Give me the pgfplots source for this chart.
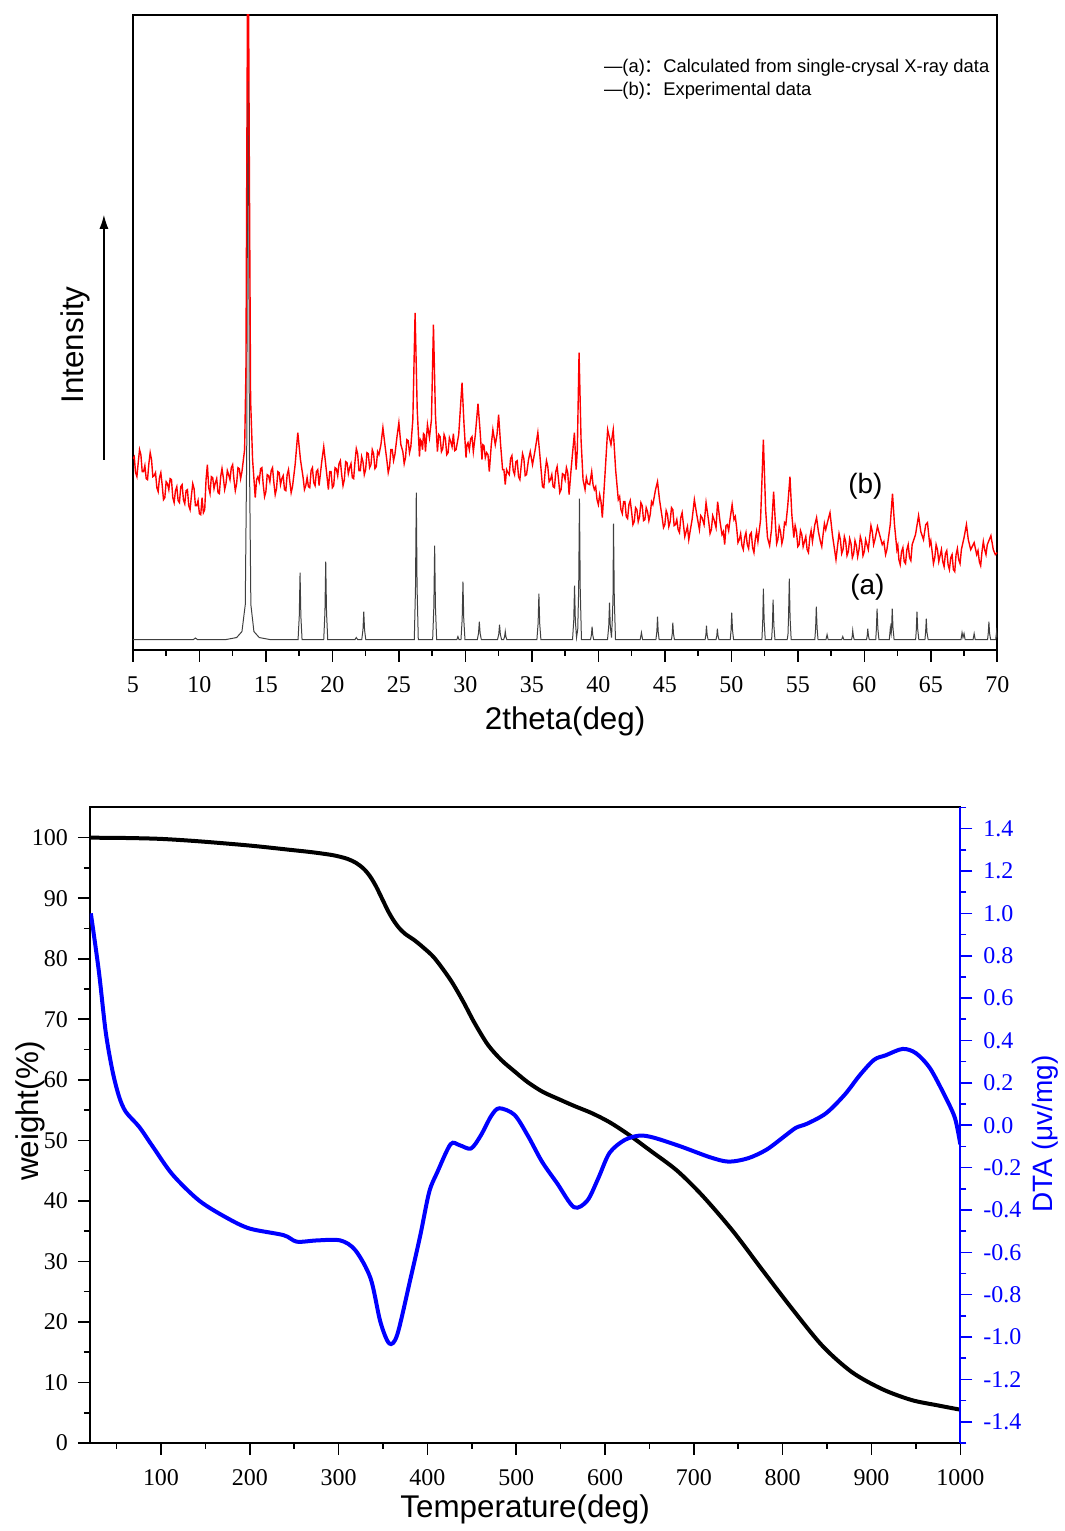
\documentclass[border=0pt]{standalone}
\usepackage{fontspec}
\setmainfont{Liberation Serif}
\newfontfamily\arial{Liberation Sans}
\newfontfamily\cjk{Noto Sans CJK SC}
\usepackage{pgfplots}
\pgfplotsset{compat=1.18}
\usetikzlibrary{arrows.meta}
\begin{document}
\begin{tikzpicture}
\path (0,0) rectangle (532.5pt,765.5pt);
% ---------------- XRD panel ----------------
\begin{axis}[at={(66.5pt,440.5pt)}, anchor=south west, scale only axis,
  width=432.5pt, height=317.5pt,
  xmin=5, xmax=70, ymin=0, ymax=635,
  xtick={5,10,...,70}, minor xtick={7.5,12.5,...,67.5}, ytick=\empty,
  xtick pos=left, tick align=outside,
  major tick length=6pt, minor tick length=3pt,
  axis line style={line width=1pt},
  every tick/.style={black, line width=0.8pt},
  tick label style={font=\rmfamily\fontsize{12}{14}\selectfont},
  xticklabel style={yshift=-4pt},
  /pgf/number format/assume math mode=true,
  xlabel={2theta(deg)}, ylabel={Intensity},
  xlabel style={font=\arial\fontsize{15.7}{18}\selectfont, at={(axis description cs:0.5,-0.1134)}, anchor=center},
  ylabel style={font=\arial\fontsize{15.7}{18}\selectfont, at={(axis description cs:-0.067,0.48)}, anchor=center},
]
\addplot[black!75, line width=0.5pt] table[row sep=\\] {
5 10\\ 9.55 10\\ 9.7 11.5\\ 9.85 10\\ 12.0 10\\ 12.8 12\\ 13.2 18\\ 13.45 45\\ 13.56 200\\ 13.66 700\\ 13.76 200\\ 13.87 45\\ 14.1 18\\ 14.5 12\\ 15.3 10\\
17.42 10\\ 17.51 33.5\\ 17.57 77\\ 17.63 33.5\\ 17.72 10\\
19.35 10\\ 19.44 37.3\\ 19.5 88\\ 19.56 37.3\\ 19.65 10\\
21.7 10\\ 21.8 12\\ 21.9 10\\
22.21 10\\ 22.3 19.8\\ 22.36 38\\ 22.42 19.8\\ 22.51 10\\
26.16 10\\ 26.25 61.5\\ 26.31 157\\ 26.37 61.5\\ 26.46 10\\
27.54 10\\ 27.63 42.9\\ 27.69 104\\ 27.75 42.9\\ 27.84 10\\
29.36 10\\ 29.44 13\\ 29.52 10\\
29.67 10\\ 29.76 30.3\\ 29.82 68\\ 29.88 30.3\\ 29.97 10\\
30.9 10\\ 30.99 16.3\\ 31.05 28\\ 31.11 16.3\\ 31.2 10\\
32.42 10\\ 32.51 15.3\\ 32.57 25\\ 32.63 15.3\\ 32.72 10\\
32.88 10\\ 32.95 12.8\\ 33.0 18\\ 33.05 12.8\\ 33.12 10\\
35.38 10\\ 35.47 26.1\\ 35.53 56\\ 35.59 26.1\\ 35.68 10\\
38.06 10\\ 38.15 28.9\\ 38.21 64\\ 38.27 28.9\\ 38.36 12\\ 38.45 20\\ 38.52 59.4\\ 38.58 151\\ 38.64 59.4\\ 38.73 10\\
39.41 10\\ 39.48 14.6\\ 39.53 23\\ 39.58 14.6\\ 39.65 10\\
40.69 10\\ 40.78 23\\ 40.84 47\\ 40.9 23\\ 40.99 12\\ 41.05 30\\ 41.1 50.6\\ 41.14 126\\ 41.2 50.6\\ 41.29 10\\
43.15 10\\ 43.24 17\\ 43.33 10\\
44.33 10\\ 44.4 18\\ 44.45 33\\ 44.5 18\\ 44.57 10\\
45.5 10\\ 45.56 16\\ 45.6 27\\ 45.65 16\\ 45.72 10\\
48.03 10\\ 48.09 14.9\\ 48.13 24\\ 48.18 14.9\\ 48.25 10\\
48.85 10\\ 48.91 13.9\\ 48.95 21\\ 49.0 13.9\\ 49.07 10\\
49.92 10\\ 49.98 19.5\\ 50.03 37\\ 50.09 19.5\\ 50.17 10\\
52.3 10\\ 52.36 27.9\\ 52.41 61\\ 52.47 27.9\\ 52.55 10\\
53.03 10\\ 53.09 24\\ 53.14 50\\ 53.2 24\\ 53.28 10\\
54.2 10\\ 54.26 15\\ 54.3 31.4\\ 54.36 71\\ 54.42 31.4\\ 54.5 10\\
56.28 10\\ 56.34 21.6\\ 56.39 43\\ 56.45 21.6\\ 56.52 10\\
57.12 10\\ 57.2 15\\ 57.28 10\\
58.3 10\\ 58.38 13\\ 58.46 10\\
59.04 10\\ 59.09 13.2\\ 59.13 19\\ 59.18 13.2\\ 59.24 10\\
60.17 10\\ 60.22 13.9\\ 60.26 21\\ 60.31 13.9\\ 60.37 10\\
60.86 10\\ 60.91 20.9\\ 60.96 41\\ 61.02 20.9\\ 61.1 10\\
61.88 10\\ 61.96 22\\ 62.02 16\\ 62.05 20.9\\ 62.1 41\\ 62.16 20.9\\ 62.24 10\\
63.86 10\\ 63.91 19.8\\ 63.96 38\\ 64.02 19.8\\ 64.1 10\\
64.56 10\\ 64.61 17.4\\ 64.66 31\\ 64.71 17.4\\ 64.8 10\\
67.27 10\\ 67.35 17\\ 67.42 12\\ 67.5 16\\ 67.58 10\\
68.18 10\\ 68.26 16\\ 68.34 10\\
69.27 10\\ 69.32 16.3\\ 69.37 28\\ 69.42 16.3\\ 69.5 10\\
69.88 10\\ 69.95 18\\ 70.0 12\\
};
\addplot[red, line width=0.7pt] table[row sep=\\] {
5.0 191\\ 5.1 193\\ 5.2 177\\ 5.3 173\\ 5.4 187\\ 5.5 200\\ 5.6 195\\ 5.7 178\\ 5.8 178\\ 5.9 184\\
6.0 171\\ 6.1 170\\ 6.2 186\\ 6.3 197\\ 6.4 190\\ 6.5 173\\ 6.6 174\\ 6.7 177\\ 6.8 162\\ 6.9 158\\
7.0 172\\ 7.1 177\\ 7.2 165\\ 7.3 150\\ 7.4 152\\ 7.5 168\\ 7.6 166\\ 7.7 160\\ 7.8 171\\ 7.9 170\\
8.0 152\\ 8.1 147\\ 8.2 159\\ 8.3 163\\ 8.4 149\\ 8.5 147\\ 8.6 163\\ 8.7 165\\ 8.8 150\\ 8.9 146\\
9.0 159\\ 9.1 160\\ 9.2 144\\ 9.3 140\\ 9.4 154\\ 9.5 166\\ 9.6 161\\ 9.7 144\\ 9.8 144\\ 9.9 149\\
10.0 136\\ 10.1 135\\ 10.2 152\\ 10.3 137\\ 10.4 140\\ 10.5 170\\ 10.6 185\\ 10.7 162\\ 10.8 156\\ 10.9 173\\
11.0 172\\ 11.1 161\\ 11.2 167\\ 11.3 171\\ 11.4 157\\ 11.5 156\\ 11.6 173\\ 11.7 181\\ 11.8 172\\ 11.9 160\\
12.0 166\\ 12.1 179\\ 12.2 175\\ 12.3 170\\ 12.4 182\\ 12.5 185\\ 12.6 170\\ 12.7 159\\ 12.8 166\\ 12.9 182\\
13.0 181\\ 13.1 171\\ 13.2 178\\ 13.4 200\\ 13.5 280\\ 13.6 600\\ 13.66 760\\ 13.75 500\\ 13.85 250\\ 14.0 190\\ 14.2 152\\
14.3 170\\ 14.4 173\\ 14.5 168\\ 14.6 181\\ 14.7 182\\ 14.8 165\\ 14.9 153\\ 15.0 158\\ 15.1 175\\ 15.2 174\\
15.3 168\\ 15.4 179\\ 15.5 182\\ 15.6 167\\ 15.7 155\\ 15.8 161\\ 15.9 178\\ 16.0 177\\ 16.1 165\\ 16.2 171\\
16.3 174\\ 16.4 160\\ 16.5 159\\ 16.6 175\\ 16.7 180\\ 16.8 168\\ 16.9 157\\ 17.0 163\\ 17.2 185\\ 17.4 217\\
17.6 190\\ 17.8 172\\ 17.9 160\\ 18.0 164\\ 18.1 172\\ 18.2 163\\ 18.3 162\\ 18.4 179\\ 18.5 182\\ 18.6 167\\
18.7 164\\ 18.8 178\\ 18.9 180\\ 19.0 164\\ 19.2 188\\ 19.35 203\\ 19.5 185\\ 19.7 160\\ 19.8 178\\ 19.9 178\\
20.0 162\\ 20.1 164\\ 20.2 182\\ 20.3 181\\ 20.4 174\\ 20.5 186\\ 20.6 189\\ 20.7 175\\ 20.8 164\\ 20.9 170\\
21.0 188\\ 21.1 187\\ 21.2 176\\ 21.3 182\\ 21.4 186\\ 21.5 172\\ 21.6 171\\ 21.7 188\\ 21.8 201\\ 21.9 196\\
22.0 179\\ 22.1 179\\ 22.2 193\\ 22.3 188\\ 22.4 175\\ 22.5 180\\ 22.6 197\\ 22.7 196\\ 22.8 182\\ 22.9 185\\
23.0 200\\ 23.1 196\\ 23.2 181\\ 23.3 183\\ 23.4 198\\ 23.5 195\\ 23.65 205\\ 23.8 222\\ 23.95 205\\ 24.1 189\\
24.2 177\\ 24.3 183\\ 24.4 200\\ 24.5 200\\ 24.6 189\\ 24.7 195\\ 24.85 212\\ 25.0 227\\ 25.15 205\\ 25.3 198\\
25.4 186\\ 25.5 192\\ 25.6 210\\ 25.7 209\\ 25.8 197\\ 25.9 203\\ 26.05 230\\ 26.22 337\\ 26.38 240\\ 26.55 193\\
26.62 210\\ 26.7 208\\ 26.78 200\\ 26.85 216\\ 26.92 215\\ 27.0 198\\ 27.15 225\\ 27.3 212\\ 27.45 230\\ 27.6 325\\
27.75 235\\ 27.9 198\\ 28.0 215\\ 28.1 213\\ 28.2 198\\ 28.3 201\\ 28.4 215\\ 28.5 211\\ 28.6 195\\ 28.7 197\\
28.8 212\\ 28.9 208\\ 29.0 203\\ 29.1 216\\ 29.2 199\\ 29.3 200\\ 29.5 215\\ 29.75 267\\ 29.9 225\\ 30.05 192\\
30.12 205\\ 30.2 207\\ 30.3 200\\ 30.4 211\\ 30.5 213\\ 30.6 198\\ 30.75 215\\ 30.95 246\\ 31.1 220\\ 31.25 190\\
31.32 205\\ 31.4 204\\ 31.5 192\\ 31.6 197\\ 31.7 195\\ 31.8 178\\ 31.95 205\\ 32.07 220\\ 32.25 205\\ 32.38 215\\
32.5 235\\ 32.65 205\\ 32.8 180\\ 32.9 180\\ 33.0 165\\ 33.1 180\\ 33.2 177\\ 33.3 175\\ 33.4 191\\ 33.5 194\\
33.6 179\\ 33.7 175\\ 33.8 188\\ 33.9 189\\ 34.0 173\\ 34.1 170\\ 34.2 184\\ 34.3 196\\ 34.4 191\\ 34.5 174\\
34.6 175\\ 34.75 190\\ 34.88 198\\ 35.05 185\\ 35.25 200\\ 35.45 217\\ 35.6 195\\ 35.8 163\\ 35.9 162\\ 36.0 178\\
36.1 189\\ 36.2 183\\ 36.3 168\\ 36.4 170\\ 36.5 175\\ 36.6 163\\ 36.7 162\\ 36.8 178\\ 36.9 183\\ 37.0 171\\
37.1 157\\ 37.2 160\\ 37.3 176\\ 37.4 175\\ 37.5 170\\ 37.6 182\\ 37.7 177\\ 37.8 155\\ 37.95 180\\ 38.2 217\\
38.33 180\\ 38.42 200\\ 38.55 297\\ 38.7 210\\ 38.85 170\\ 39.0 160\\ 39.1 172\\ 39.2 166\\ 39.35 165\\ 39.5 178\\
39.6 165\\ 39.7 160\\ 39.8 163\\ 39.9 150\\ 40.0 145\\ 40.1 155\\ 40.2 148\\ 40.3 132\\ 40.5 175\\ 40.7 220\\
40.95 205\\ 41.12 220\\ 41.3 180\\ 41.5 150\\ 41.6 153\\ 41.7 140\\ 41.8 136\\ 41.9 148\\ 42.0 148\\ 42.1 133\\
42.2 131\\ 42.3 145\\ 42.4 149\\ 42.5 138\\ 42.6 125\\ 42.7 128\\ 42.8 142\\ 42.9 140\\ 43.0 128\\ 43.1 133\\
43.2 147\\ 43.3 144\\ 43.4 129\\ 43.5 130\\ 43.6 142\\ 43.7 138\\ 43.8 129\\ 43.9 135\\ 44.0 148\\ 44.1 145\\
44.3 160\\ 44.45 168\\ 44.6 150\\ 44.8 132\\ 44.9 122\\ 45.0 125\\ 45.1 139\\ 45.2 135\\ 45.3 123\\ 45.4 128\\
45.5 142\\ 45.6 140\\ 45.7 124\\ 45.8 125\\ 45.9 130\\ 46.0 120\\ 46.1 117\\ 46.2 132\\ 46.3 137\\ 46.4 125\\
46.5 113\\ 46.6 118\\ 46.7 123\\ 46.8 110\\ 47.05 130\\ 47.22 150\\ 47.4 135\\ 47.6 120\\ 47.7 134\\ 47.8 132\\
47.95 125\\ 48.1 147\\ 48.3 128\\ 48.4 116\\ 48.5 120\\ 48.6 134\\ 48.7 130\\ 48.85 122\\ 48.97 148\\ 49.15 128\\
49.3 115\\ 49.4 118\\ 49.5 105\\ 49.6 124\\ 49.7 125\\ 49.8 119\\ 49.9 130\\ 50.06 145\\ 50.2 130\\ 50.3 133\\
50.4 122\\ 50.5 107\\ 50.6 110\\ 50.7 116\\ 50.8 104\\ 50.9 100\\ 51.0 112\\ 51.1 117\\ 51.2 105\\ 51.3 101\\
51.4 115\\ 51.5 117\\ 51.6 102\\ 51.7 97\\ 51.8 110\\ 51.9 118\\ 52.0 108\\ 52.2 130\\ 52.41 210\\ 52.58 140\\
52.72 112\\ 52.88 104\\ 53.02 120\\ 53.18 158\\ 53.32 125\\ 53.41 106\\ 53.5 110\\ 53.6 123\\ 53.7 118\\ 53.8 106\\
53.9 112\\ 54.0 127\\ 54.1 125\\ 54.25 145\\ 54.41 173\\ 54.55 135\\ 54.7 112\\ 54.8 124\\ 54.9 118\\ 55.0 103\\
55.1 105\\ 55.2 119\\ 55.3 115\\ 55.4 103\\ 55.5 108\\ 55.6 113\\ 55.7 100\\ 55.8 97\\ 55.9 112\\ 56.0 119\\
56.1 108\\ 56.28 125\\ 56.41 132\\ 56.55 118\\ 56.7 108\\ 56.8 103\\ 56.9 115\\ 57.0 126\\ 57.1 120\\ 57.28 130\\
57.42 137\\ 57.6 115\\ 57.87 90\\ 58.0 105\\ 58.1 116\\ 58.2 110\\ 58.3 96\\ 58.4 100\\ 58.5 113\\ 58.6 108\\
58.7 94\\ 58.8 98\\ 58.9 111\\ 59.0 106\\ 59.1 92\\ 59.2 96\\ 59.3 109\\ 59.4 104\\ 59.5 93\\ 59.6 100\\
59.7 113\\ 59.8 108\\ 59.9 94\\ 60.0 98\\ 60.1 110\\ 60.2 105\\ 60.3 100\\ 60.4 112\\ 60.5 124\\ 60.6 118\\
60.7 105\\ 60.8 110\\ 60.99 123\\ 61.15 115\\ 61.35 105\\ 61.47 108\\ 61.6 95\\ 61.7 100\\ 61.8 110\\ 61.95 125\\
62.12 156\\ 62.27 125\\ 62.45 100\\ 62.52 104\\ 62.6 90\\ 62.7 85\\ 62.8 98\\ 62.9 102\\ 63.0 88\\ 63.1 86\\
63.2 100\\ 63.3 105\\ 63.4 92\\ 63.5 89\\ 63.6 105\\ 63.85 115\\ 64.08 134\\ 64.25 118\\ 64.45 110\\ 64.62 125\\
64.75 127\\ 64.92 105\\ 65.0 109\\ 65.1 98\\ 65.2 86\\ 65.3 92\\ 65.4 105\\ 65.5 100\\ 65.6 88\\ 65.7 94\\
65.8 100\\ 65.9 88\\ 66.0 83\\ 66.1 96\\ 66.2 99\\ 66.3 85\\ 66.4 80\\ 66.5 92\\ 66.6 95\\ 66.7 80\\
66.8 78\\ 66.9 95\\ 67.0 101\\ 67.1 90\\ 67.2 86\\ 67.3 100\\ 67.5 112\\ 67.68 125\\ 67.82 110\\ 68.0 100\\
68.26 107\\ 68.45 95\\ 68.55 99\\ 68.65 88\\ 68.75 84\\ 68.85 98\\ 68.95 108\\ 69.05 100\\ 69.15 95\\ 69.25 105\\
69.52 114\\ 69.7 100\\ 69.85 95\\ 70.0 97\\
};
\node[anchor=west, font=\arial\fontsize{9.2}{10}\selectfont, inner sep=0pt] at (axis cs:40.4,582) {—(a){\cjk ：}Calculated from single-crysal X-ray data};
\node[anchor=west, font=\arial\fontsize{9.2}{10}\selectfont, inner sep=0pt] at (axis cs:40.4,559) {—(b){\cjk ：}Experimental data};
\node[font=\arial\fontsize{14}{16}\selectfont] at (axis cs:60.08,163) {(b)};
\node[font=\arial\fontsize{14}{16}\selectfont] at (axis cs:60.23,62) {(a)};
\end{axis}
\draw[-{Latex[length=7pt,width=4.5pt]}, line width=0.6pt] (52pt,535.5pt) -- (52pt,658pt);
% ---------------- TGA / DTA panel ----------------
\begin{axis}[at={(45pt,43.5pt)}, anchor=south west, scale only axis,
  width=435.5pt, height=318pt,
  xmin=20, xmax=1000, ymin=0, ymax=105,
  xtick={100,200,...,1000}, minor xtick={50,150,...,950},
  ytick={0,10,...,100}, minor ytick={5,15,...,95},
  xtick pos=left, ytick pos=left, tick align=outside,
  major tick length=6pt, minor tick length=3pt,
  axis line style={line width=1pt},
  every tick/.style={black, line width=0.8pt},
  tick label style={font=\rmfamily\fontsize{12}{14}\selectfont},
  xticklabel style={yshift=-4pt}, yticklabel style={xshift=-1.5pt},
  /pgf/number format/.cd, 1000 sep={}, assume math mode=true, /pgfplots/.cd,
  xlabel={Temperature(deg)}, ylabel={weight(\%)},
  xlabel style={font=\arial\fontsize{15.7}{18}\selectfont, at={(axis description cs:0.5,-0.105)}, anchor=center},
  ylabel style={font=\arial\fontsize{15.7}{18}\selectfont, at={(axis description cs:-0.068,0.522)}, anchor=center},
]
\addplot[black, line width=2pt, smooth, tension=0.5] table[row sep=\\] {
20 100\\ 60 99.95\\ 100 99.8\\ 143 99.4\\ 200 98.7\\ 245 98.0\\ 270 97.6\\ 294 97.1\\ 310 96.5\\ 320 95.8\\
328 94.9\\ 335 93.7\\ 342 92.0\\ 349 89.9\\ 356 87.8\\ 362 86.3\\ 368 85.1\\ 375 84.1\\ 385 83.1\\ 395 81.9\\
408 80.1\\ 426 76.5\\ 440 73.0\\ 453 69.4\\ 468 65.8\\ 483 63.3\\ 498 61.4\\ 513 59.6\\ 530 58.0\\ 548 56.8\\
565 55.7\\ 585 54.5\\ 605 53.0\\ 626 51.0\\ 651 48.3\\ 681 45.0\\ 710 40.8\\ 744 35.0\\ 777 28.6\\ 811 22.1\\
845 16.0\\ 878 11.7\\ 912 8.9\\ 945 7.1\\ 975 6.2\\ 1000 5.5\\
};
\end{axis}
\begin{axis}[at={(45pt,43.5pt)}, anchor=south west, scale only axis,
  width=435.5pt, height=318pt,
  xmin=20, xmax=1000, ymin=-1.5, ymax=1.5,
  axis x line=none, axis y line*=right,
  y axis line style={blue, line width=1pt},
  ytick={-1.4,-1.2,-1.0,-0.8,-0.6,-0.4,-0.2,0,0.2,0.4,0.6,0.8,1.0,1.2,1.4},
  minor ytick={-1.5,-1.3,-1.1,-0.9,-0.7,-0.5,-0.3,-0.1,0.1,0.3,0.5,0.7,0.9,1.1,1.3,1.5},
  tick align=outside, major tick length=6pt, minor tick length=3pt,
  every tick/.style={blue, line width=0.8pt},
  yticklabel style={blue, font=\rmfamily\fontsize{12}{14}\selectfont, xshift=2pt},
  /pgf/number format/.cd, fixed, fixed zerofill, precision=1, assume math mode=true, /pgfplots/.cd,
  ylabel={DTA (μv/mg)},
  ylabel style={blue, font=\arial\fontsize{14}{16}\selectfont, at={(axis description cs:1.0976,0.486)}, anchor=center, rotate=0},
]
\addplot[blue, line width=2pt, smooth, tension=0.5] table[row sep=\\] {
21 1.00\\ 30 0.728\\ 37.7 0.442\\ 45.3 0.258\\ 52.8 0.135\\ 60.4 0.063\\ 75.5 -0.008\\ 90.6 -0.100\\ 113 -0.233\\ 143 -0.356\\
174 -0.437\\ 200 -0.488\\ 238 -0.519\\ 253 -0.550\\ 275 -0.544\\ 302 -0.544\\ 319 -0.591\\ 336 -0.723\\ 347 -0.928\\ 357 -1.030\\
366 -0.989\\ 381 -0.723\\ 392 -0.519\\ 402 -0.315\\ 411 -0.223\\ 426 -0.090\\ 436 -0.094\\ 449 -0.110\\ 460 -0.049\\ 472 0.045\\
481 0.080\\ 498 0.049\\ 513 -0.049\\ 529 -0.172\\ 546 -0.274\\ 565 -0.387\\ 580 -0.356\\ 592 -0.254\\ 605 -0.131\\ 622 -0.070\\
639 -0.049\\ 655 -0.059\\ 685 -0.100\\ 718 -0.151\\ 739 -0.172\\ 761 -0.156\\ 782 -0.115\\ 803 -0.049\\ 815 -0.012\\ 828 0.008\\
849 0.057\\ 870 0.145\\ 887 0.237\\ 903 0.309\\ 916 0.330\\ 935 0.360\\ 950 0.340\\ 966 0.268\\ 983 0.135\\ 994 0.033\\ 1000 -0.090\\
};
\end{axis}
\end{tikzpicture}
\end{document}
